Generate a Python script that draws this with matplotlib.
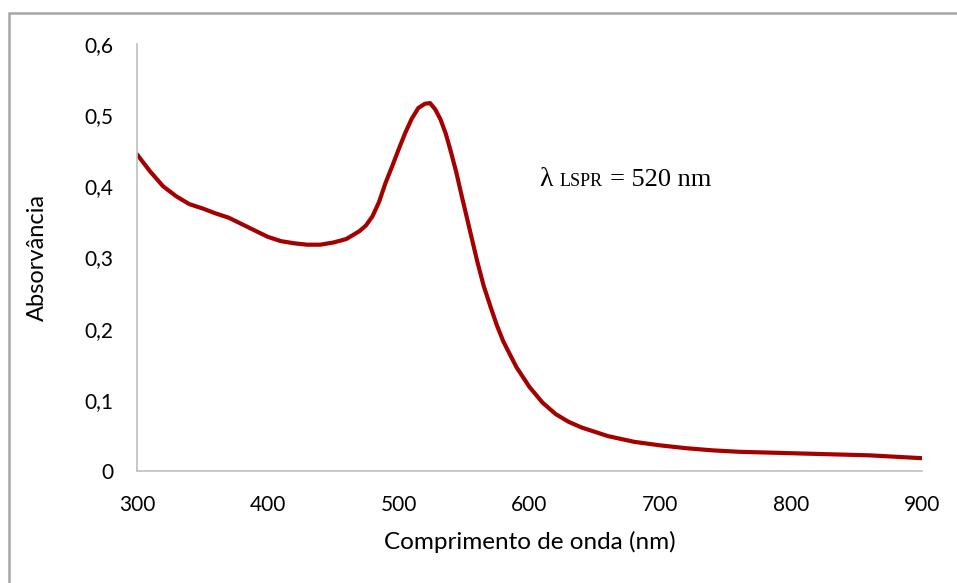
import matplotlib
matplotlib.use("Agg")
import matplotlib.pyplot as plt
from matplotlib.patches import Rectangle
from matplotlib.offsetbox import TextArea, HPacker, AnnotationBbox
from matplotlib.ticker import FuncFormatter

wavelength = [300, 310, 320, 330, 340, 350, 360, 370, 380, 390, 400, 410, 420, 430, 440,
              450, 460, 470, 475, 480, 485, 490, 495, 500, 505, 510, 515, 520, 524, 528, 532,
              536, 540, 544, 548, 552, 556, 560, 565, 570, 575, 580, 590, 600, 610, 620,
              630, 640, 660, 680, 700, 720, 740, 760, 780, 800, 820, 840, 860, 880, 900]
absorbance = [0.445, 0.421, 0.400, 0.386, 0.375, 0.369, 0.362, 0.356, 0.347, 0.338, 0.329,
              0.323, 0.320, 0.318, 0.318, 0.321, 0.326, 0.337, 0.345, 0.358, 0.378, 0.405, 0.428,
              0.452, 0.475, 0.495, 0.510, 0.516, 0.517, 0.508, 0.494, 0.474, 0.448, 0.420,
              0.388, 0.357, 0.326, 0.295, 0.260, 0.232, 0.205, 0.182, 0.146, 0.118, 0.096,
              0.080, 0.069, 0.061, 0.049, 0.041, 0.036, 0.032, 0.029, 0.027, 0.026, 0.025,
              0.024, 0.023, 0.022, 0.020, 0.018]
x_ticks = [300, 400, 500, 600, 700, 800, 900]
y_ticks = [0, 0.1, 0.2, 0.3, 0.4, 0.5, 0.6]

plt.rcParams['font.family'] = ['Lato', 'DejaVu Sans']

fig = plt.figure(figsize=(9.57, 5.83), dpi=100)
ax = fig.add_axes([137/957, 1-471/583, (922-137)/957, (471-44)/583])

ax.plot(wavelength, absorbance, color='#A50000', lw=3.0, solid_capstyle='round',
        solid_joinstyle='round')

ax.set_xlim(300, 900)
ax.set_ylim(0, 0.6)
ax.set_xticks(x_ticks)
ax.set_yticks(y_ticks)
ax.yaxis.set_major_formatter(FuncFormatter(lambda v, p: '0' if v == 0 else f'{v:.1f}'.replace('.', ',')))
ax.tick_params(axis='both', length=0, pad=17, labelsize=15, labelcolor='black')

for s in ['top', 'right']:
    ax.spines[s].set_visible(False)
for s in ['left', 'bottom']:
    ax.spines[s].set_color('#BFBFBF')
    ax.spines[s].set_linewidth(1.2)

ax.set_xlabel('Comprimento de onda (nm)', fontsize=17.5, labelpad=12)
ax.set_ylabel('Absorvância', fontsize=17, labelpad=26)

serif = ['Liberation Serif', 'DejaVu Serif']
t1 = TextArea('λ', textprops=dict(fontsize=20, family=serif))
t2 = TextArea('LSPR', textprops=dict(fontsize=13, family=serif))
t3 = TextArea('= 520 nm', textprops=dict(fontsize=19, family=serif))
pack = HPacker(children=[t1, t2, t3], align='baseline', pad=0, sep=5)
ab = AnnotationBbox(pack, (539/957, 1-179/583), xycoords='figure fraction',
                    box_alignment=(0, 0.5), frameon=False)
fig.add_artist(ab)

fig.add_artist(Rectangle((9/957, -0.2), 1.5, 1.2 - 13/583, transform=fig.transFigure,
                         fill=False, edgecolor='#A6A6A6', lw=1.8, clip_on=False))

fig.savefig('out.png', dpi=100)
